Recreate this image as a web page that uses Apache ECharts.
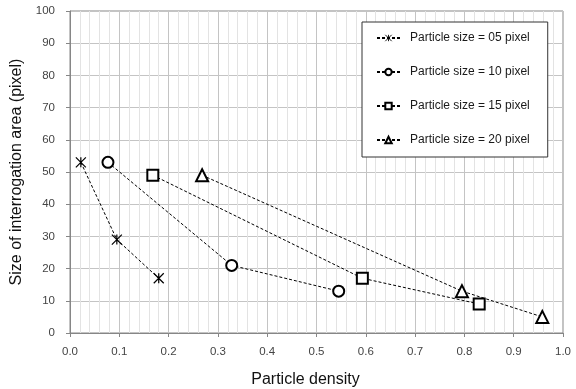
<!DOCTYPE html>
<html>
<head>
<meta charset="utf-8">
<script src="https://cdn.jsdelivr.net/npm/echarts@6/dist/echarts.min.js"></script>
<style>
  html, body { margin: 0; padding: 0; background: #fff; }
  #chart { width: 576px; height: 389px; }
</style>
</head>
<body>
<div id="chart"></div>
<script>
// values
const seriesNames = [
  'Particle size = 05 pixel',
  'Particle size = 10 pixel',
  'Particle size = 15 pixel',
  'Particle size = 20 pixel'
];
const density05 = [0.022, 0.095, 0.180];
const size05 = [53, 29, 17];
const density10 = [0.077, 0.328, 0.545];
const size10 = [53, 21, 13];
const density15 = [0.168, 0.593, 0.830];
const size15 = [49, 17, 9];
const density20 = [0.268, 0.795, 0.958];
const size20 = [49, 13, 5];

const asterisk = 'path://M0,0L10,10M10,0L0,10M5,0L5,10';
const symbols = [asterisk, 'emptyCircle', 'emptyRect', 'emptyTriangle'];
const symbolSizes = [10, 11, 11, 12];
const xs = [density05, density10, density15, density20];
const ys = [size05, size10, size15, size20];

const font = 'Liberation Sans, Arial, sans-serif';
const chart = echarts.init(document.getElementById('chart'));

const series = seriesNames.map((name, i) => ({
  name,
  type: 'line',
  data: xs[i].map((x, j) => [x, ys[i][j]]),
  symbol: symbols[i],
  symbolSize: symbolSizes[i],
  showAllSymbol: true,
  lineStyle: { color: '#000', width: 1, type: [3, 2] },
  itemStyle: i === 0
    ? { color: 'none', borderColor: '#000', borderWidth: 1.2 }
    : { color: '#000', borderWidth: 1.2 },
  z: 3
}));

chart.setOption({
  animation: false,
  backgroundColor: '#fff',
  textStyle: { fontFamily: font },
  grid: {
    left: 70, right: 13, top: 11, bottom: 56,
    outerBoundsMode: 'none',
    containLabel: false,
    show: true,
    borderColor: '#868686',
    borderWidth: 1,
    backgroundColor: 'transparent'
  },
  legend: {
    orient: 'vertical',
    left: 362,
    top: 22,
    padding: [10, 18, 11, 14],
    itemWidth: 23,
    itemHeight: 8,
    itemGap: 22,
    borderColor: '#333',
    borderWidth: 1,
    backgroundColor: '#fff',
    itemStyle: { borderWidth: 0.9 },
    textStyle: { fontSize: 12, color: '#1a1a1a', fontFamily: font, padding: [0, 0, 0, 5], lineHeight: 12 },
    data: seriesNames
  },
  xAxis: {
    type: 'value',
    min: 0,
    max: 1,
    interval: 0.1,
    name: 'Particle density',
    nameLocation: 'middle',
    nameGap: 39,
    nameTextStyle: { fontSize: 16, color: '#111', fontFamily: font, padding: [0, 22, 0, 0] },
    axisLine: { show: true, lineStyle: { color: '#868686' } },
    axisTick: { show: true, length: 4, lineStyle: { color: '#868686' } },
    axisLabel: {
      color: '#444', fontSize: 11.5, margin: 13,
      formatter: v => v.toFixed(1)
    },
    splitLine: { show: true, lineStyle: { color: '#c4c4c4' } },
    minorTick: { show: false, splitNumber: 5 },
    minorSplitLine: { show: true, lineStyle: { color: '#e3e3e3' } }
  },
  yAxis: {
    type: 'value',
    min: 0,
    max: 100,
    interval: 10,
    name: 'Size of interrogation area (pixel)',
    nameLocation: 'middle',
    nameGap: 37,
    nameTextStyle: { fontSize: 16, color: '#111', fontFamily: font },
    axisLine: { show: true, lineStyle: { color: '#868686' } },
    axisTick: { show: true, length: 4, lineStyle: { color: '#868686' } },
    axisLabel: { color: '#444', fontSize: 11.5, margin: 15 },
    splitLine: { show: true, lineStyle: { color: '#c4c4c4' } }
  },
  series
});
</script>
</body>
</html>
